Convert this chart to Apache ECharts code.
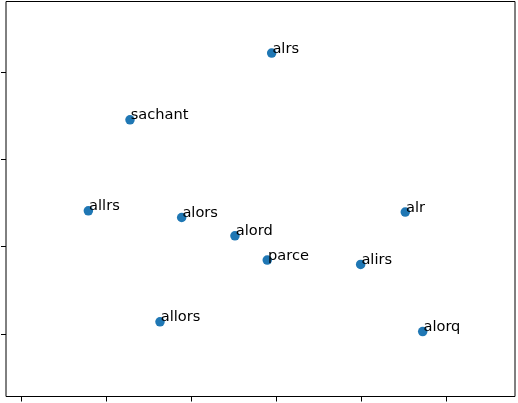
<!DOCTYPE html>
<html><head><meta charset="utf-8">
<script src="https://cdn.jsdelivr.net/npm/echarts@6/dist/echarts.min.js"></script>
<style>html,body{margin:0;padding:0;background:#fff}#c{width:518px;height:403px}</style>
</head><body><div id="c"></div>
<script>
const words = ['alrs','sachant','allrs','alors','alord','parce','alirs','alr','allors','alorq'];
const xValues = [2.941,1.274,0.784,1.882,2.509,2.889,3.988,4.513,1.627,4.718];
const yValues = [3.223,2.457,1.412,1.335,1.125,0.846,0.796,1.397,0.138,0.026];
const xTicks = [0,1,2,3,4,5];
const yTicks = [0,1,2,3];

const data = words.map((w,i)=>({name:w, value:[xValues[i], yValues[i]]}));
const chart = echarts.init(document.getElementById('c'), null, {renderer:'canvas'});
chart.setOption({
  animation:false,
  grid:{left:6,right:3,top:1.5,bottom:6.5,show:true,borderColor:'#000',borderWidth:1,backgroundColor:'#fff'},
  xAxis:{type:'value',position:'bottom',min:-0.185,max:5.804,splitLine:{show:false},
    axisLine:{show:false,onZero:false},
    axisTick:{show:true,inside:false,length:5,lineStyle:{color:'#000',width:1},customValues:xTicks},
    axisLabel:{show:false}},
  yAxis:{type:'value',position:'left',min:-0.72,max:3.815,splitLine:{show:false},
    axisLine:{show:false,onZero:false},
    axisTick:{show:true,inside:false,length:5,lineStyle:{color:'#000',width:1},customValues:yTicks},
    axisLabel:{show:false}},
  series:[{type:'scatter',symbolSize:9.5,itemStyle:{color:'#1f77b4',opacity:1},
    data:data,
    label:{show:true,formatter:'{b}',position:[5.5,8],align:'left',verticalAlign:'bottom',
      color:'#000',fontFamily:'DejaVu Sans',fontSize:14.6}}]
});
</script></body></html>
